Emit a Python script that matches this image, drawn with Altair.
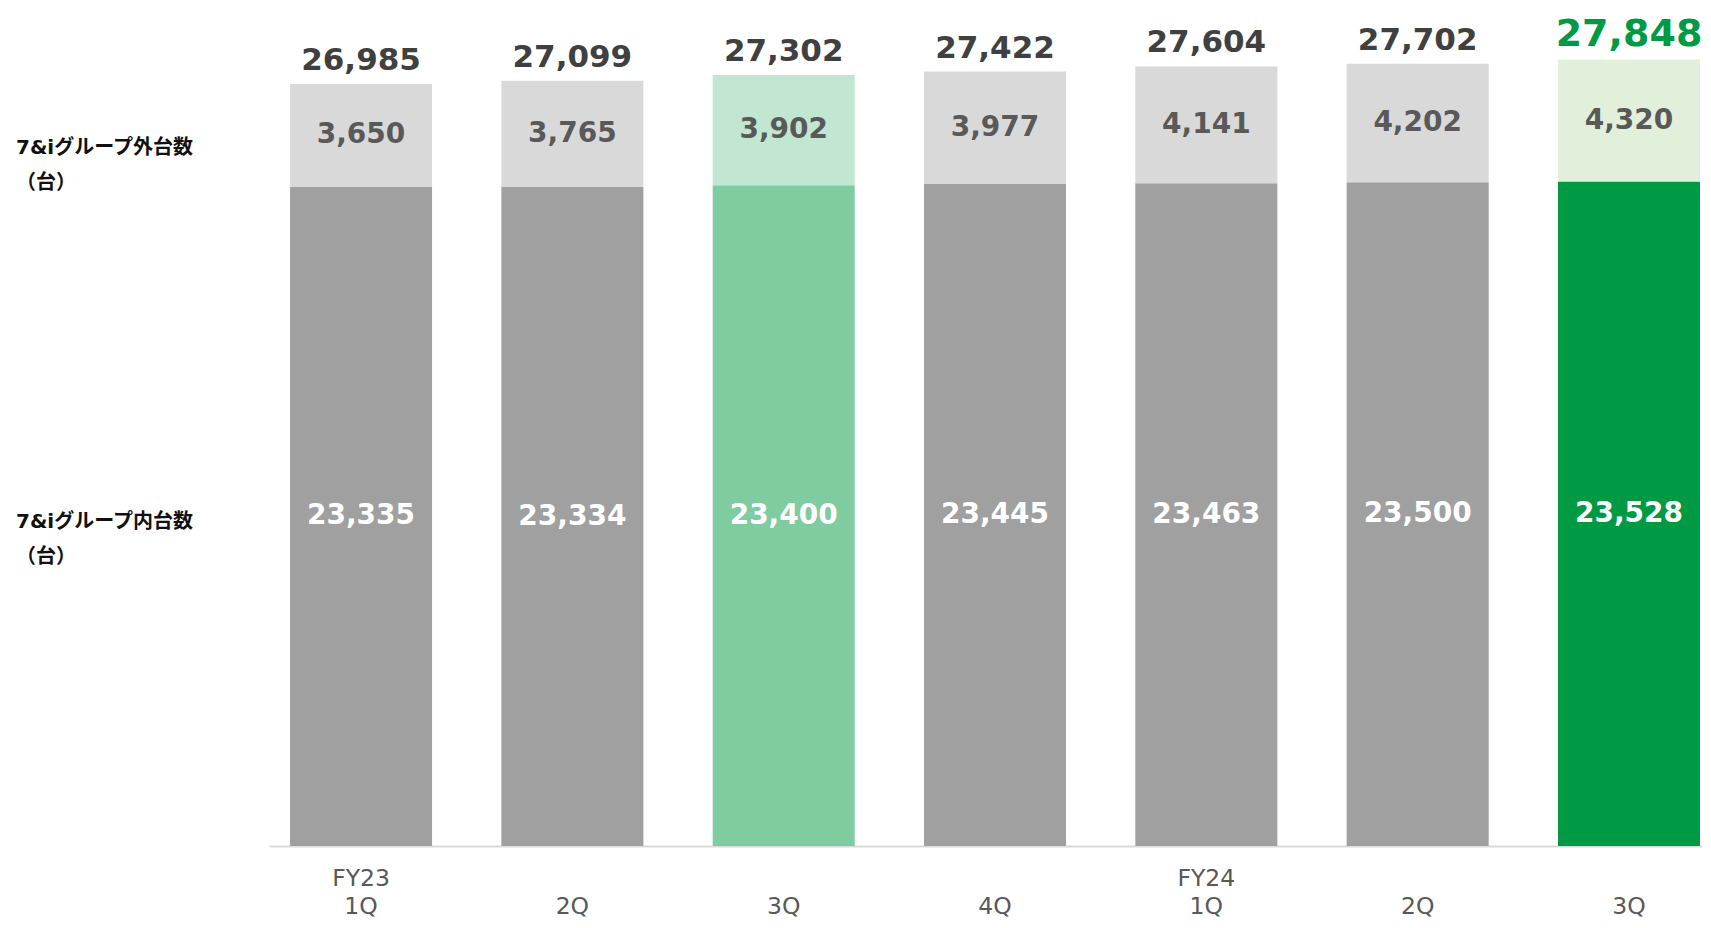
import altair as alt
import pandas as pd

# ---- data ----
periods = ["FY23 1Q", "FY23 2Q", "FY23 3Q", "FY23 4Q", "FY24 1Q", "FY24 2Q", "FY24 3Q"]
inside_units = [23335, 23334, 23400, 23445, 23463, 23500, 23528]   # 7&iグループ内台数
outside_units = [3650, 3765, 3902, 3977, 4141, 4202, 4320]        # 7&iグループ外台数
total_units = [26985, 27099, 27302, 27422, 27604, 27702, 27848]

side_label_outside = "7&iグループ外台数\n（台）"
side_label_inside = "7&iグループ内台数\n（台）"

# ---- styles ----
inside_colors = ["#A0A0A0", "#A0A0A0", "#7FCCA0", "#A0A0A0", "#A0A0A0", "#A0A0A0", "#009A44"]
outside_colors = ["#D9D9D9", "#D9D9D9", "#C1E6D2", "#D9D9D9", "#D9D9D9", "#D9D9D9", "#E2EFDA"]
highlight = "#009A44"
NUM_FONT = "DejaVu Sans"
JP_FONT = "'DejaVu Sans', 'Noto Sans CJK JP', sans-serif"

df = pd.DataFrame({
    "period": periods,
    "inside": inside_units,
    "outside": outside_units,
    "total": total_units,
})

x_enc = alt.X(
    "period:N",
    sort=periods,
    scale=alt.Scale(domain=periods, paddingInner=0.328, paddingOuter=0.0545, align=0.913),
    axis=alt.Axis(
        title=None,
        labelAngle=0,
        ticks=False,
        domainColor="#D9D9D9",
        domainWidth=2,
        labelFont=NUM_FONT,
        labelFontSize=23.5,
        labelColor="#595959",
        labelLineHeight=28,
        labelPadding=20,
        labelBaseline="top",
        labelExpr="split(datum.value, ' ')[1] == '1Q' ? split(datum.value, ' ') : [' ', split(datum.value, ' ')[1]]",
    ),
)
y_scale = alt.Scale(domain=[0, 29000])

base = alt.Chart(df).transform_calculate(
    mid_in="datum.inside / 2",
    mid_out="datum.inside + datum.outside / 2",
)

inner_bars = base.mark_bar().encode(
    x=x_enc,
    y=alt.Y("inside:Q", scale=y_scale, axis=None),
    color=alt.Color("period:N", scale=alt.Scale(domain=periods, range=inside_colors), legend=None),
)

outer_bars = base.mark_bar().encode(
    x=x_enc,
    y=alt.Y("inside:Q", scale=y_scale, axis=None),
    y2="total:Q",
    fill=alt.Fill("period:N", scale=alt.Scale(domain=periods, range=outside_colors), legend=None),
)

inner_text = base.mark_text(
    font=NUM_FONT, fontWeight="bold", fontSize=28, color="white", baseline="middle"
).encode(
    x=x_enc,
    y=alt.Y("mid_in:Q", scale=y_scale, axis=None),
    text=alt.Text("inside:Q", format=","),
)

outer_text = base.mark_text(
    font=NUM_FONT, fontWeight="bold", fontSize=28, color="#595959", baseline="middle"
).encode(
    x=x_enc,
    y=alt.Y("mid_out:Q", scale=y_scale, axis=None),
    text=alt.Text("outside:Q", format=","),
)

total_text = base.mark_text(
    font=NUM_FONT, fontWeight="bold", baseline="alphabetic", dy=-14
).encode(
    x=x_enc,
    y=alt.Y("total:Q", scale=y_scale, axis=None),
    text=alt.Text("total:Q", format=","),
    color=alt.condition(alt.datum.period == periods[-1], alt.value(highlight), alt.value("#404040")),
    size=alt.condition(alt.datum.period == periods[-1], alt.value(38), alt.value(31)),
)

side_out = alt.Chart(pd.DataFrame({"label": [side_label_outside]})).mark_text(
    font=JP_FONT, fontWeight="bold", fontSize=20, color="#111111",
    align="left", baseline="middle", lineBreak="\n", lineHeight=35, dy=13,
).encode(
    x=alt.value(-253),
    y=alt.datum(inside_units[0] + outside_units[0] / 2, scale=y_scale),
    text="label:N",
)

side_in = alt.Chart(pd.DataFrame({"label": [side_label_inside]})).mark_text(
    font=JP_FONT, fontWeight="bold", fontSize=20, color="#111111",
    align="left", baseline="middle", lineBreak="\n", lineHeight=35, dy=6,
).encode(
    x=alt.value(-253),
    y=alt.datum(inside_units[0] / 2, scale=y_scale),
    text="label:N",
)

chart = alt.layer(
    inner_bars, outer_bars, inner_text, outer_text, total_text, side_out, side_in
).resolve_scale(color="independent").properties(
    width=1433,
    height=819,
    padding={"left": 261, "top": 19, "right": 1, "bottom": 74},
    autosize=alt.AutoSizeParams(type="none"),
).configure_view(stroke=None)

chart.save("out.html", embed_options={"renderer": "svg", "actions": False})
